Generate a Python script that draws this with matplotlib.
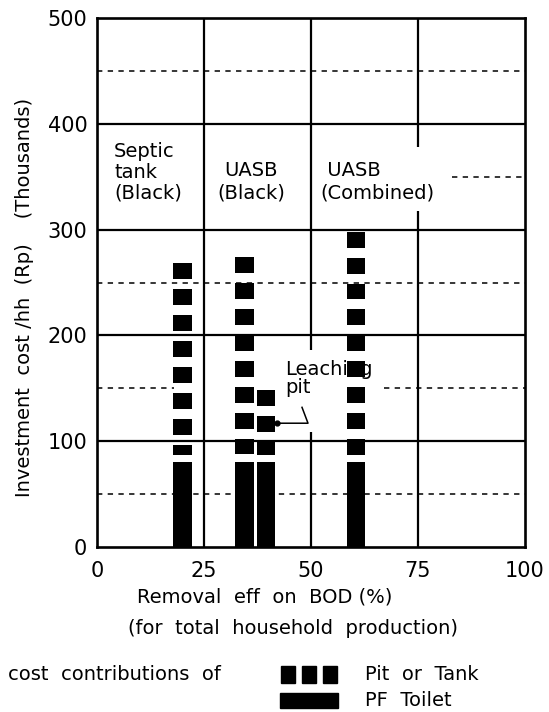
import matplotlib
matplotlib.use("Agg")
import matplotlib.pyplot as plt
from matplotlib.patches import Rectangle
import numpy as np

plt.rcParams['font.family'] = ['DejaVu Sans']

# ---- data ----
bar_x = [20, 34.5, 39.5, 60.5]            # removal efficiency on BOD (%)
pf_toilet = [80, 80, 80, 80]              # PF toilet cost (thousand Rp)
total_cost = [268, 274, 148, 298]         # total investment cost/hh (thousand Rp)
scheme_labels = ["Septic\ntank\n(Black)", "UASB\n(Black)", " UASB\n(Combined)"]
scheme_label_x = [4.0, 36.0, 52.3]
x_ticks = [0, 25, 50, 75, 100]
y_ticks = [0, 100, 200, 300, 400, 500]

# ---- style ----
BAR_W = 4.3
BLOCK = 15.0
PERIOD = 24.5
GAP_BOTTOM = 7.0
FS = 14

fig = plt.figure(figsize=(5.49, 7.12), dpi=100)
ax = fig.add_axes([97/549, 1-547/712, (525-97)/549, (547-18)/712])
ax.set_xlim(0, 100)
ax.set_ylim(0, 500)

# solid grid lines (with the gaps of the original drawing)
for yv in [100, 200, 300, 400]:
    ax.axhline(yv, color='black', lw=1.6, zorder=1)
ax.vlines(25, 0, 500, color='black', lw=1.6, zorder=1)
ax.vlines(50, 0, 109, color='black', lw=1.6, zorder=1)
ax.vlines(50, 186, 500, color='black', lw=1.6, zorder=1)
ax.vlines(75, 0, 318, color='black', lw=1.6, zorder=1)
ax.vlines(75, 378, 500, color='black', lw=1.6, zorder=1)

# dashed half-lines
dash_kw = dict(color='black', lw=1.1, linestyle=(0, (3.5, 3.5)), zorder=1)
ax.hlines(450, 0, 100, **dash_kw)
ax.hlines(350, 83, 100, **dash_kw)
ax.hlines(250, 0, 100, **dash_kw)
ax.hlines(150, 0, 18, **dash_kw)
ax.hlines(150, 67, 100, **dash_kw)
ax.hlines(50, 0, 100, **dash_kw)

# bars: PF toilet (solid) + pit/tank (blocks)
ax.bar(bar_x, pf_toilet, width=BAR_W, color='black', zorder=3)
for xv, pf, tot in zip(bar_x, pf_toilet, total_cost):
    tops = np.arange(tot, pf + GAP_BOTTOM, -PERIOD)
    bottoms = np.maximum(tops - BLOCK, pf + GAP_BOTTOM)
    ax.bar([xv] * len(tops), tops - bottoms, bottom=bottoms, width=BAR_W,
           color='black', zorder=3)

# scheme labels
ax.text(scheme_label_x[0], 326, scheme_labels[0], ha='left', va='bottom',
        fontsize=FS, multialignment='left', linespacing=1.1)
ax.text(scheme_label_x[1], 326, scheme_labels[1], ha='center', va='bottom',
        fontsize=FS, multialignment='center', linespacing=1.2)
ax.text(scheme_label_x[2], 326, scheme_labels[2], ha='left', va='bottom',
        fontsize=FS, multialignment='left', linespacing=1.2)

# leaching pit annotation
ax.text(44.0, 177, "Leaching\npit", ha='left', va='top', fontsize=FS,
        linespacing=0.95)
ax.plot([bar_x[2] + BAR_W / 2, 49.3, 47.9], [117, 117, 132],
        color='black', lw=1.1, zorder=4)
ax.plot([bar_x[2] + BAR_W / 2 + 0.3], [117], 'o', color='black', ms=3.5, zorder=4)

# axes styling
for s in ax.spines.values():
    s.set_linewidth(1.9)
ax.set_xticks(x_ticks)
ax.set_yticks(y_ticks)
ax.tick_params(length=0, labelsize=15, pad=7)
ax.tick_params(axis='x', pad=10)

fig.text(25/549, 1-297/712, "Investment  cost /hh  (Rp)    (Thousands)",
         rotation=90, ha='center', va='center', fontsize=FS)
fig.text(265/549, 1-597/712, "Removal  eff  on  BOD (%)", ha='center',
         va='center', fontsize=FS)
fig.text(293/549, 1-628/712, "(for  total  household  production)",
         ha='center', va='center', fontsize=FS)

# legend
fig.text(8/549, 1-675/712, "cost  contributions  of", ha='left', va='center',
         fontsize=FS)
for x0 in [281, 302, 323]:
    fig.patches.append(Rectangle((x0/549, 1-683/712), 14/549, 17/712,
                                 transform=fig.transFigure, color='black'))
fig.patches.append(Rectangle((280/549, 1-708/712), 58/549, 15/712,
                             transform=fig.transFigure, color='black'))
fig.text(365/549, 1-674/712, "Pit  or  Tank", ha='left', va='center', fontsize=FS)
fig.text(365/549, 1-701/712, "PF  Toilet", ha='left', va='center', fontsize=FS)

fig.savefig("out.png", dpi=100)
